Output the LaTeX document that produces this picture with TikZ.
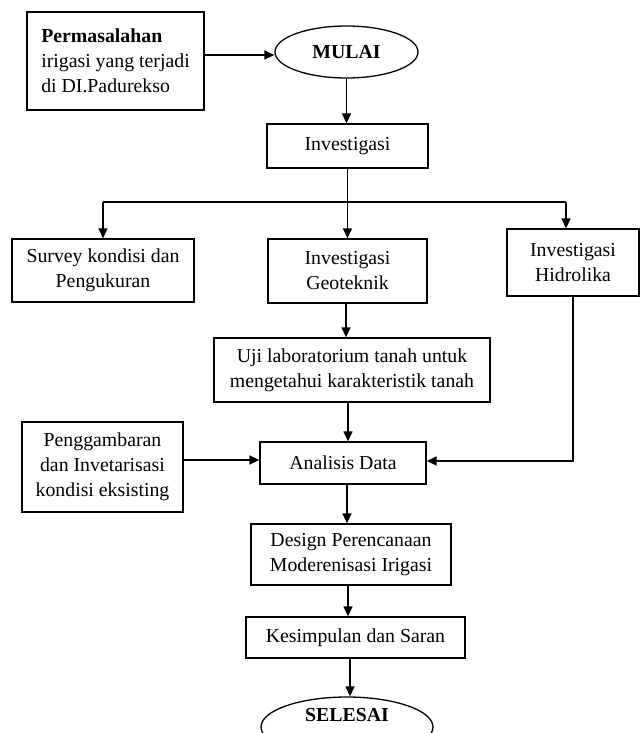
\documentclass[tikz,border=0pt]{standalone}
\usepackage{fontspec}
\setmainfont{Liberation Serif}
\usetikzlibrary{shapes.geometric,arrows.meta}
\newcommand\flowfs{\fontsize{19.8}{25}\selectfont}
\begin{document}
\begin{tikzpicture}[x=1pt,y=-1pt,
  box/.style={draw,line width=1.3pt,inner sep=0pt,align=center,font=\flowfs},
  oval/.style={draw,ellipse,line width=1.3pt,inner sep=0pt,align=center,font=\flowfs\bfseries},
  arr/.style={line width=1.3pt,-{Triangle[length=10pt,width=9pt]}},
  ln/.style={line width=1.3pt}]
\useasboundingbox (0,0) rectangle (641,733);
\clip (0,0) rectangle (641,733);
% nodes
\node[box,minimum width=177pt,minimum height=98pt,align=left] (perm) at (115.5,61)
  {\textbf{Permasalahan}\\irigasi yang terjadi\\di DI.Padurekso};
\node[oval,minimum width=143pt,minimum height=52pt] (mulai) at (346.5,52) {MULAI};
\node[box,minimum width=161pt,minimum height=44pt] (inv) at (347.5,146) {Investigasi};
\node[box,minimum width=182pt,minimum height=63pt] (survey) at (103,270.5) {Survey kondisi dan\\Pengukuran};
\node[box,minimum width=159pt,minimum height=64pt] (geo) at (347.5,271) {Investigasi\\Geoteknik};
\node[box,minimum width=132pt,minimum height=67pt] (hid) at (573,262.5) {Investigasi\\Hidrolika};
\node[box,minimum width=276pt,minimum height=64pt] (uji) at (352,370) {Uji laboratorium tanah untuk\\mengetahui karakteristik tanah};
\node[box,minimum width=161pt,minimum height=90pt] (peng) at (102.5,467) {Penggambaran\\dan Invetarisasi\\kondisi eksisting};
\node[box,minimum width=166pt,minimum height=42pt] (ana) at (343,463) {Analisis Data};
\node[box,minimum width=200pt,minimum height=61pt] (design) at (351,554.5) {Design Perencanaan\\Moderenisasi Irigasi};
\node[box,minimum width=219pt,minimum height=41pt] (kes) at (355.5,637.5) {Kesimpulan dan Saran};
\node[oval,minimum width=172pt,minimum height=60pt,text height=13pt,text depth=24pt] (selesai) at (347,727) {SELESAI};
% branch coordinates
\coordinate (brL) at (103,202);
\coordinate (brR) at (566,202);
% connectors
\draw[arr] ([yshift=-3pt]mulai.west -| perm.east) -- ([yshift=-3pt]mulai.west);
\draw[arr] (mulai.south) -- (mulai.south |- inv.north);
\draw[arr] (inv.south) -- (geo.north);
\draw[ln] (brL) -- (brR);
\draw[arr] (brL) -- (survey.north);
\draw[arr] (brR) -- (brR |- hid.north);
\draw[arr] ([xshift=-1.5pt]geo.south) -- ([xshift=-6pt]uji.north);
\draw[arr] ([xshift=-4pt]uji.south) -- ([xshift=5pt]ana.north);
\draw[arr] ([yshift=3pt]ana.west -| peng.east) -- ([yshift=3pt]ana.west);
\draw[arr] (hid.south) |- ([yshift=2pt]ana.east);
\draw[arr] ([xshift=4pt]ana.south) -- ([xshift=-4pt]design.north);
\draw[arr] ([xshift=-3pt]design.south) -- ([xshift=-7.5pt]kes.north);
\draw[arr] ([xshift=-5.5pt]kes.south) -- ([xshift=3pt]selesai.north);
\end{tikzpicture}
\end{document}
